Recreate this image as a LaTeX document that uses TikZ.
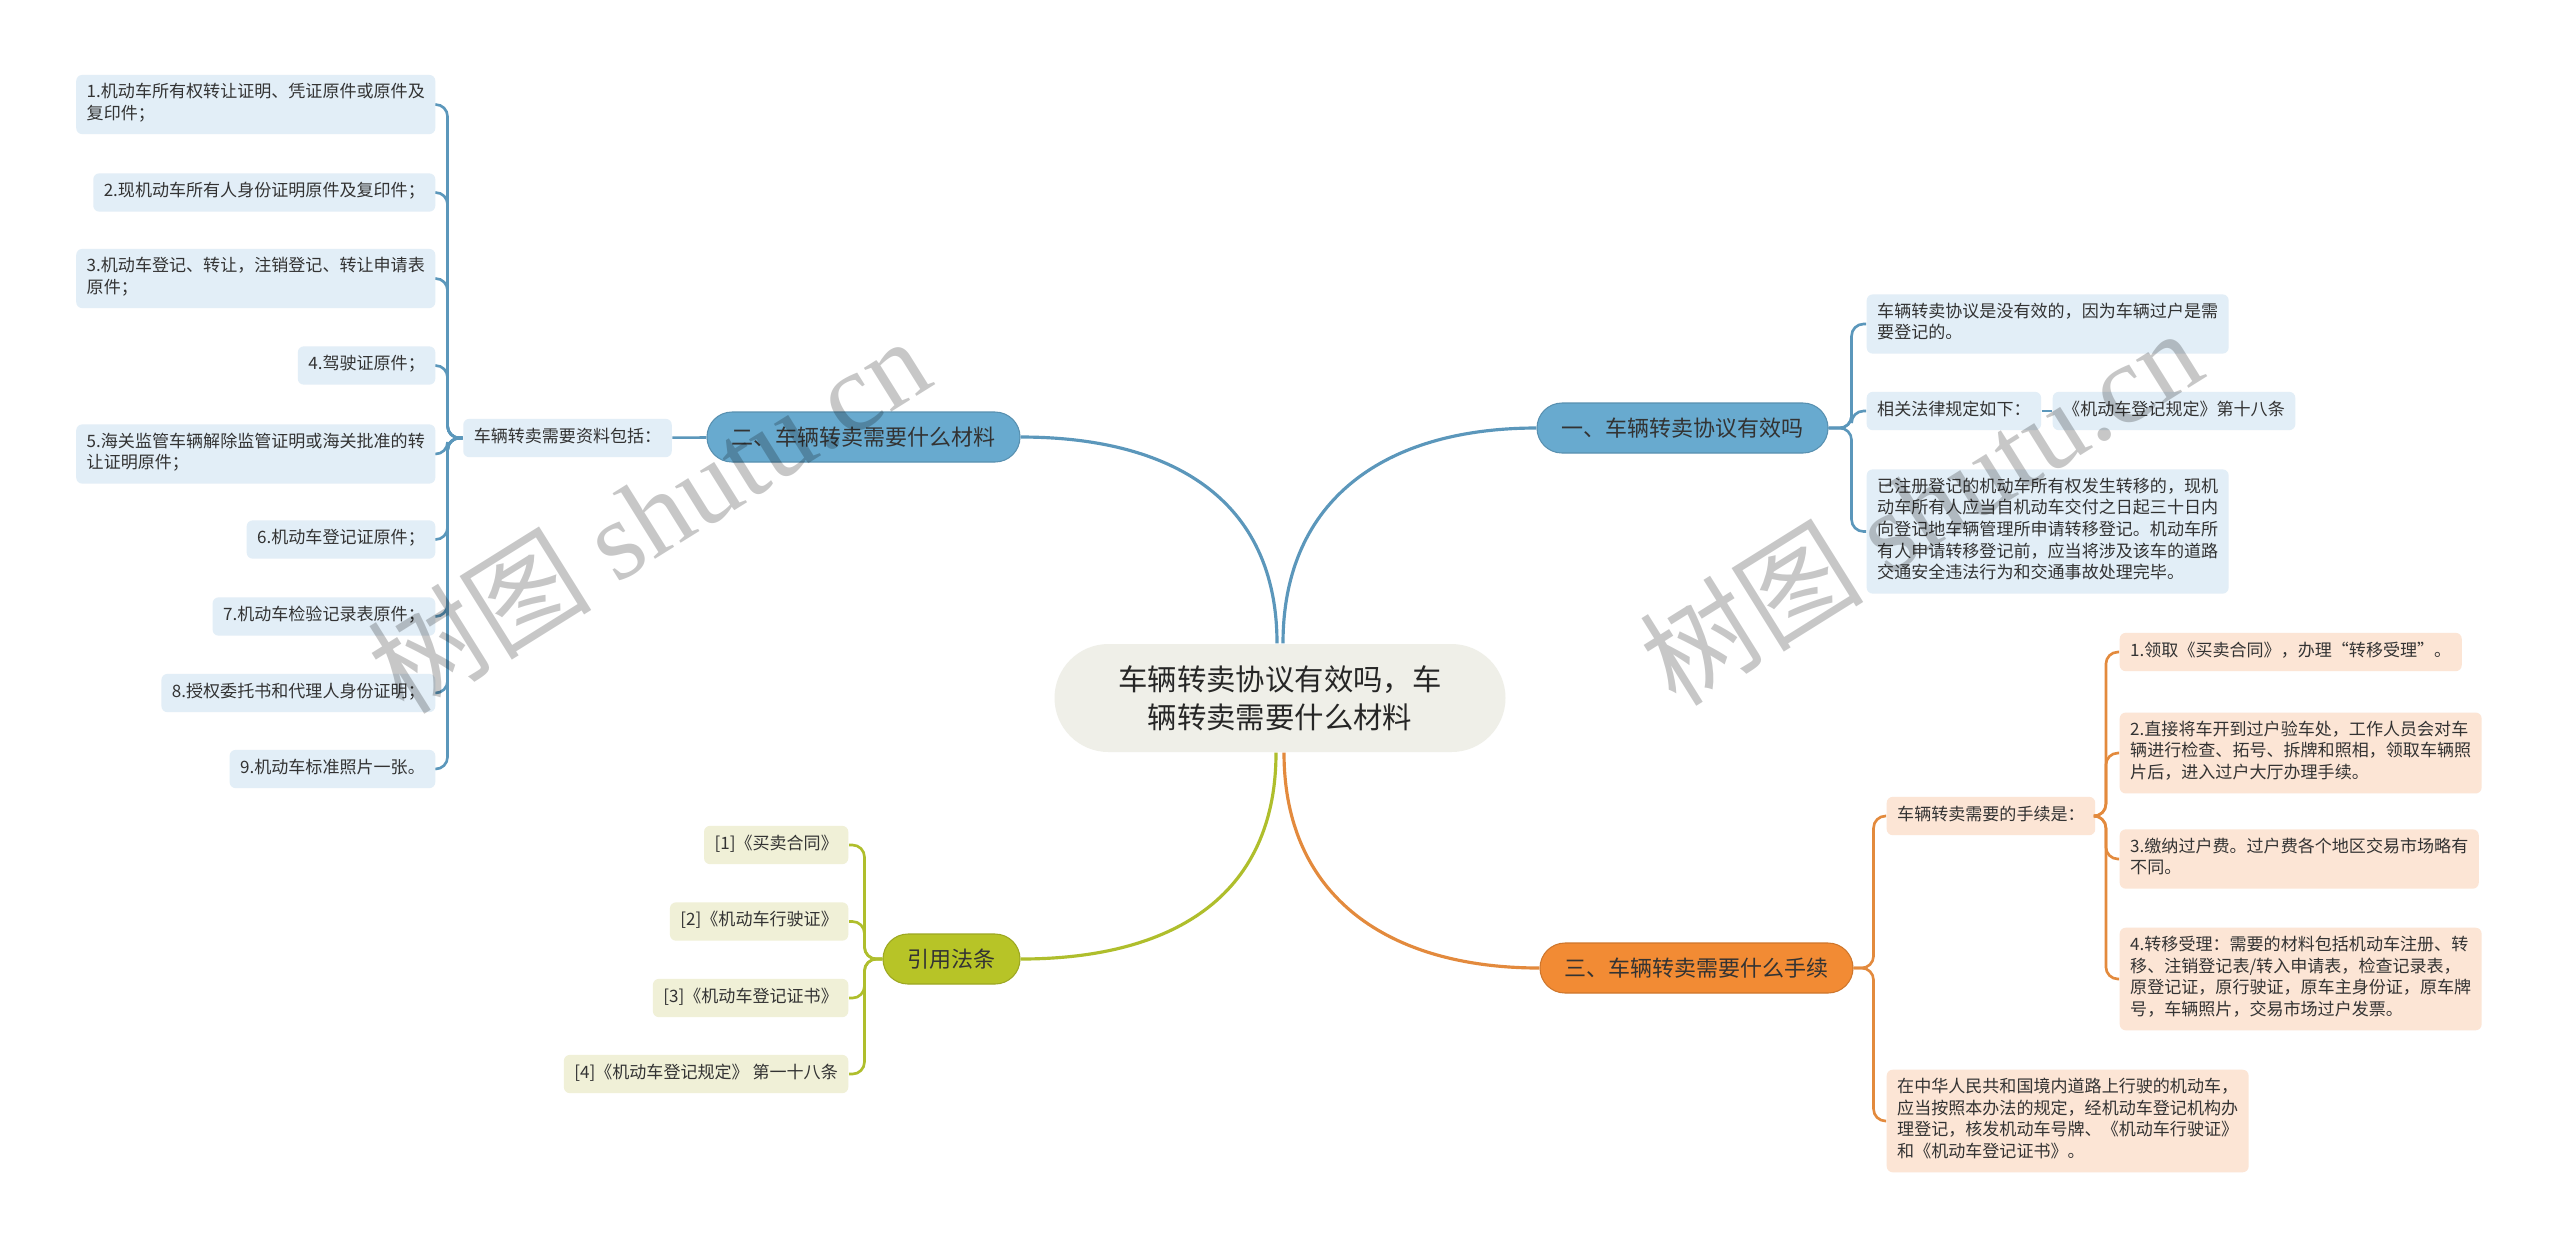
\documentclass[tikz,border=0pt]{standalone}
\usepackage{fontspec}
\setmainfont{Noto Sans CJK SC}
\newfontfamily\wmfont{Liberation Serif}
\definecolor{hubfill}{HTML}{EFEFE8}
\definecolor{bluepillc}{HTML}{68AACF}
\definecolor{blueleafc}{HTML}{E2EEF7}
\definecolor{bluelinec}{HTML}{5B97BB}
\definecolor{orangepillc}{HTML}{F28B34}
\definecolor{orangeleafc}{HTML}{FCE5D5}
\definecolor{orangelinec}{HTML}{E38A3D}
\definecolor{olivepillc}{HTML}{B7C427}
\definecolor{oliveleafc}{HTML}{F0F0D7}
\definecolor{olivelinec}{HTML}{AFBE2C}
\definecolor{inktext}{HTML}{333333}
\newcommand{\leaffont}{\fontsize{4.85}{6.17}\selectfont}
\newcommand{\branchfont}{\fontsize{6.26}{7.5}\selectfont}
\newcommand{\hubfont}{\fontsize{8.36}{10.8}\selectfont}

\begin{document}
\begin{tikzpicture}[x=1cm,y=-1cm,
  leaf/.style={align=left, font=\leaffont, text=inktext, rounded corners=0.06cm,
    inner xsep=0.105cm, inner ysep=0.083cm,
    execute at begin node=\strut, execute at end node=\strut},
  bleaf/.style={leaf, fill=blueleafc},
  oleaf/.style={leaf, fill=orangeleafc},
  yleaf/.style={leaf, fill=oliveleafc},
  pill/.style={font=\branchfont, text=inktext, rounded corners=0.25cm,
    minimum height=0.50cm, inner xsep=0.245cm, inner ysep=0pt},
  bpill/.style={pill, fill=bluepillc, draw=bluepillc!85!black, line width=0.3pt},
  opill/.style={pill, fill=orangepillc, draw=orangepillc!85!black, line width=0.3pt},
  ypill/.style={pill, fill=olivepillc, draw=olivepillc!85!black, line width=0.3pt},
  link/.style={line width=0.75pt, rounded corners=0.12cm},
  blink/.style={link, draw=bluelinec},
  olink/.style={link, draw=orangelinec},
  ylink/.style={link, draw=olivelinec},
  mainlink/.style={line width=0.9pt},
  wmark/.style={text=black, text opacity=0.22, font=\fontsize{32}{36}\selectfont}]
  \fill[white] (0,0) rectangle (25.60,12.49);
  \useasboundingbox (0,0) rectangle (25.60,12.49);

  % center
  \node[font=\hubfont, text=black!85, fill=hubfill, rounded corners=0.54cm,
    minimum width=4.51cm, minimum height=1.08cm, align=center] (hub) at (12.80,6.98)
    {车辆转卖协议有效吗，车\\辆转卖需要什么材料};

  % branch one
  \node[bpill] (b1) at (16.825,4.28) {一、车辆转卖协议有效吗};
  \node[bleaf,anchor=west] (b1a) at (18.66,3.24) {车辆转卖协议是没有效的，因为车辆过户是需\\要登记的。};
  \node[bleaf,anchor=west] (b1b) at (18.66,4.11) {相关法律规定如下：};
  \node[bleaf,anchor=west] (b1c) at (20.52,4.11) {《机动车登记规定》第十八条};
  \node[bleaf,anchor=west] (b1d) at (18.66,5.315) {已注册登记的机动车所有权发生转移的，现机\\动车所有人应当自机动车交付之日起三十日内\\向登记地车辆管理所申请转移登记。机动车所\\有人申请转移登记前，应当将涉及该车的道路\\交通安全违法行为和交通事故处理完毕。};
  \draw[blink] (b1.east) -- ++(0.23,0) |- (b1a.west);
  \draw[blink] (b1.east) -- ++(0.23,0) |- (b1b.west);
  \draw[blink] (b1.east) -- ++(0.23,0) |- (b1d.west);
  \draw[blink] (b1b) -- (b1c);

  % branch two
  \node[bpill] (b2) at (8.635,4.37) {二、车辆转卖需要什么材料};
  \node[bleaf] (b2a) at (5.675,4.38) {车辆转卖需要资料包括：};
  \node[bleaf,anchor=east] (m1) at (4.36,1.045) {1.机动车所有权转让证明、凭证原件或原件及\\复印件；};
  \node[bleaf,anchor=east] (m2) at (4.36,1.925) {2.现机动车所有人身份证明原件及复印件；};
  \node[bleaf,anchor=east] (m3) at (4.36,2.785) {3.机动车登记、转让，注销登记、转让申请表\\原件；};
  \node[bleaf,anchor=east] (m4) at (4.36,3.655) {4.驾驶证原件；};
  \node[bleaf,anchor=east] (m5) at (4.36,4.54) {5.海关监管车辆解除监管证明或海关批准的转\\让证明原件；};
  \node[bleaf,anchor=east] (m6) at (4.36,5.395) {6.机动车登记证原件；};
  \node[bleaf,anchor=east] (m7) at (4.36,6.165) {7.机动车检验记录表原件；};
  \node[bleaf,anchor=east] (m8) at (4.36,6.93) {8.授权委托书和代理人身份证明；};
  \node[bleaf,anchor=east] (m9) at (4.36,7.69) {9.机动车标准照片一张。};
  \draw[blink] (b2) -- (b2a);
  \foreach \k in {1,...,9}
    \draw[blink] (b2a.west) -- ++(-0.15,0) |- (m\k.east);

  % branch three
  \node[opill] (b3) at (16.965,9.68) {三、车辆转卖需要什么手续};
  \node[oleaf,anchor=west] (b3a) at (18.86,8.16) {车辆转卖需要的手续是：};
  \node[oleaf,anchor=west] (b3b) at (18.86,11.21) {在中华人民共和国境内道路上行驶的机动车，\\应当按照本办法的规定，经机动车登记机构办\\理登记，核发机动车号牌、《机动车行驶证》\\和《机动车登记证书》。};
  \node[oleaf,anchor=west] (s1) at (21.19,6.52) {1.领取《买卖合同》，办理“转移受理”。};
  \node[oleaf,anchor=west] (s2) at (21.19,7.53) {2.直接将车开到过户验车处，工作人员会对车\\辆进行检查、拓号、拆牌和照相，领取车辆照\\片后，进入过户大厅办理手续。};
  \node[oleaf,anchor=west] (s3) at (21.19,8.59) {3.缴纳过户费。过户费各个地区交易市场略有\\不同。};
  \node[oleaf,anchor=west] (s4) at (21.19,9.79) {4.转移受理：需要的材料包括机动车注册、转\\移、注销登记表/转入申请表，检查记录表，\\原登记证，原行驶证，原车主身份证，原车牌\\号，车辆照片，交易市场过户发票。};
  \draw[olink] (b3.east) -- ++(0.20,0) |- (b3a.west);
  \draw[olink] (b3.east) -- ++(0.20,0) |- (b3b.west);
  \foreach \k in {1,...,4}
    \draw[olink] (b3a.east) -- ++(0.10,0) |- (s\k.west);

  % branch four
  \node[ypill] (b4) at (9.515,9.59) {引用法条};
  \node[yleaf,anchor=east] (r1) at (8.49,8.45) {[1]《买卖合同》};
  \node[yleaf,anchor=east] (r2) at (8.49,9.215) {[2]《机动车行驶证》};
  \node[yleaf,anchor=east] (r3) at (8.49,9.98) {[3]《机动车登记证书》};
  \node[yleaf,anchor=east] (r4) at (8.49,10.74) {[4]《机动车登记规定》 第一十八条};
  \foreach \k in {1,...,4}
    \draw[ylink] (b4.west) -- ++(-0.18,0) |- (r\k.east);

  % from the center
  \draw[mainlink, bluelinec] ([xshift=0.03cm]hub.north) .. controls +(0,-1.45) and +(-1.5,0) .. (b1.west);
  \draw[mainlink, bluelinec] ([xshift=-0.03cm]hub.north) .. controls +(0,-1.45) and +(1.5,0) .. (b2.east);
  \draw[mainlink, orangelinec] ([xshift=0.04cm]hub.south) .. controls +(0,1.45) and +(-1.5,0) .. (b3.west);
  \draw[mainlink, olivelinec] ([xshift=-0.04cm]hub.south) .. controls +(0,1.45) and +(1.5,0) .. (b4.east);

  % watermarks
  \node[wmark, rotate=32] (wmA) at (6.48,5.14) {树图 {\wmfont shutu.cn}};
  \node[wmark, rotate=32] (wmB) at (19.20,5.06) {树图 {\wmfont shutu.cn}};
\end{tikzpicture}
\end{document}
